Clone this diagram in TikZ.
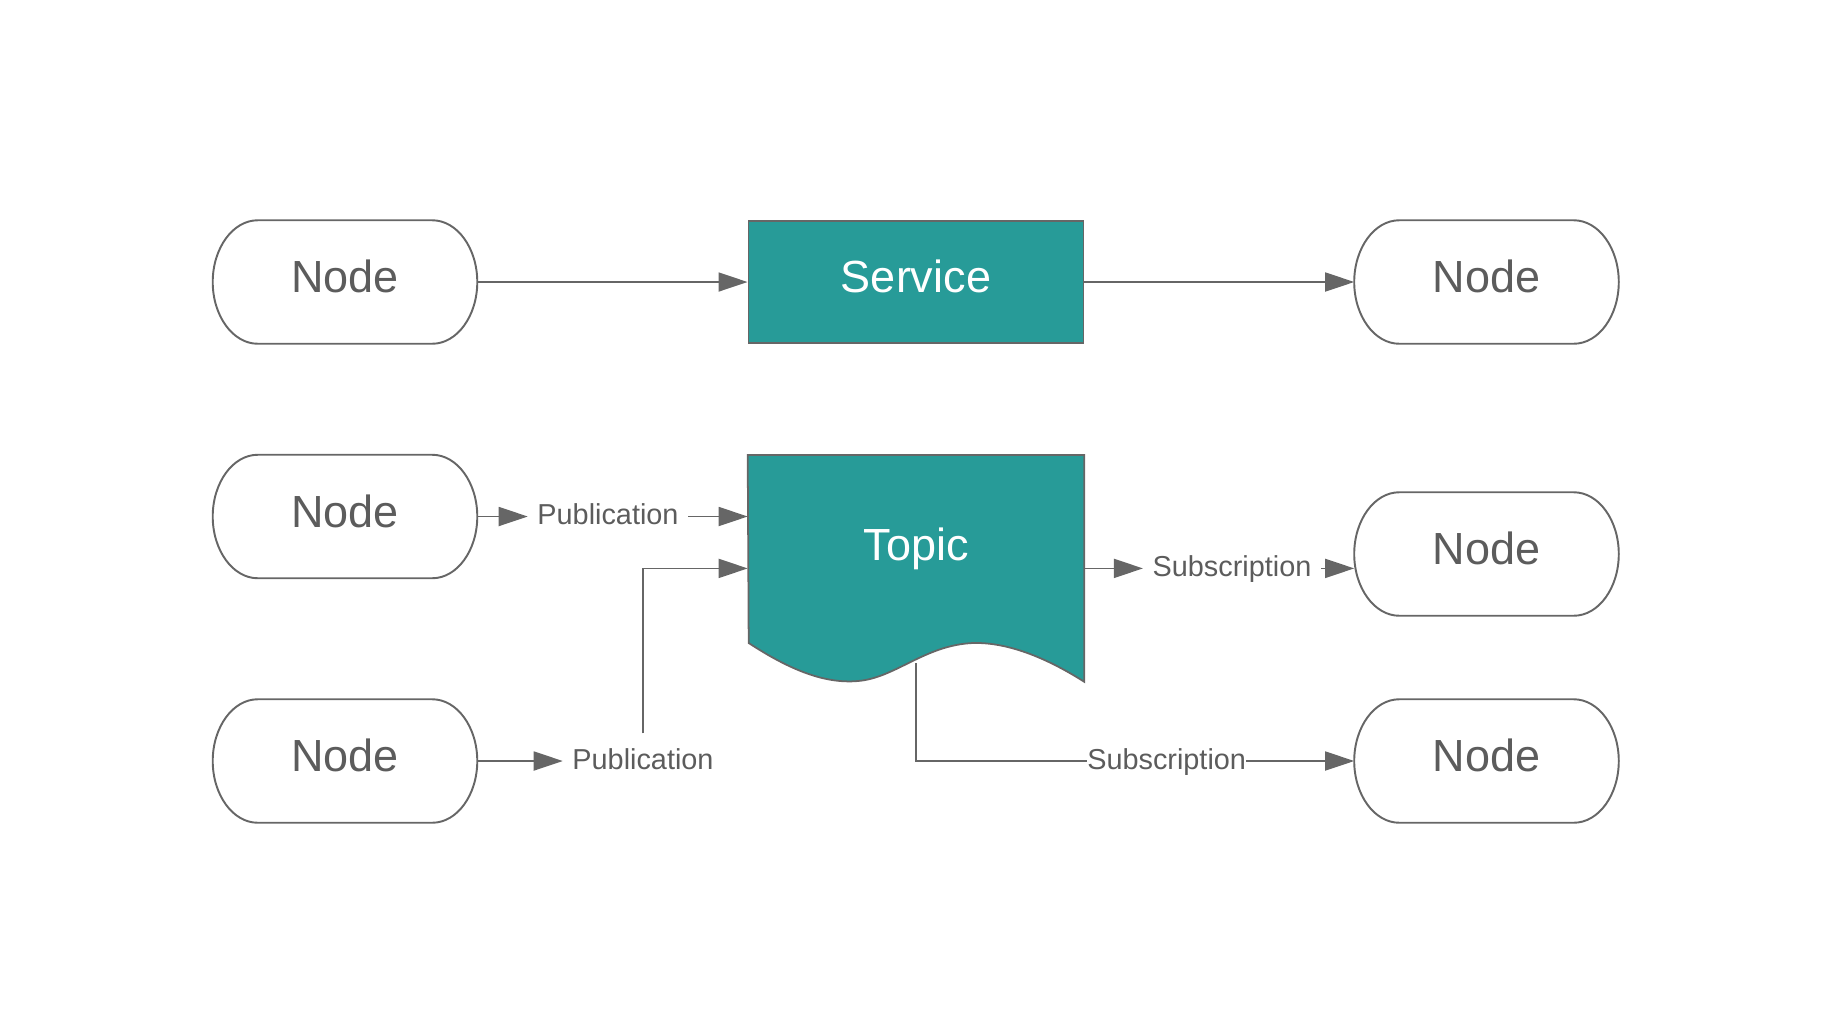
\documentclass[tikz,border=0pt]{standalone}
\usepackage{fontspec}
\setmainfont{Liberation Sans}
\usetikzlibrary{arrows.meta}
\definecolor{tealbox}{HTML}{279B98}
\definecolor{linegray}{HTML}{666666}
\definecolor{txtgray}{HTML}{5C5C5C}
\tikzset{
  arr/.style={draw=linegray, line width=0.5pt, -{Triangle[length=0.29cm,width=0.19cm]}},
  pill/.style={minimum width=2.63cm, minimum height=1.22cm, text=txtgray, font=\fontsize{12.8}{15}\selectfont, text height=0.33cm, text depth=0.12cm,
    append after command={\pgfextra{\draw[linegray, line width=0.55pt] ([xshift=0.45cm]\tikzlastnode.north west) -- ([xshift=-0.45cm]\tikzlastnode.north east)
      .. controls ([xshift=-0.2cm]\tikzlastnode.north east) and ([yshift=0.337cm]\tikzlastnode.east) .. (\tikzlastnode.east)
      .. controls ([yshift=-0.337cm]\tikzlastnode.east) and ([xshift=-0.2cm]\tikzlastnode.south east) .. ([xshift=-0.45cm]\tikzlastnode.south east)
      -- ([xshift=0.45cm]\tikzlastnode.south west)
      .. controls ([xshift=0.2cm]\tikzlastnode.south west) and ([yshift=-0.337cm]\tikzlastnode.west) .. (\tikzlastnode.west)
      .. controls ([yshift=0.337cm]\tikzlastnode.west) and ([xshift=0.2cm]\tikzlastnode.north west) .. cycle;}}},
  tealbox/.style={fill=tealbox, draw=linegray, line width=0.5pt, minimum width=3.35cm, minimum height=1.22cm, text=white, font=\fontsize{12.8}{15}\selectfont, text height=0.33cm, text depth=0.12cm},
  lbl/.style={text=txtgray, font=\fontsize{8.2}{10}\selectfont, text height=0.22cm, text depth=0.06cm, inner xsep=0.09cm, inner ysep=0.13cm},
  onlbl/.style={text=txtgray, font=\fontsize{8.2}{10}\selectfont, text height=0.22cm, text depth=0.06cm, fill=white, inner sep=0pt}
}
\begin{document}
\begin{tikzpicture}[x=0.01cm, y=-0.01cm]
\useasboundingbox (0,0) rectangle (1823,1011);
\node[pill] (nodeL1) at (345,282) {Node}; \node[tealbox] (service) at (916,282) {Service}; \node[pill] (nodeR1) at (1486.5,282) {Node};
\node[pill] (nodeL2) at (345,516.5) {Node}; \node[pill] (nodeR2) at (1486.5,554) {Node};
\node[pill] (nodeL3) at (345,761) {Node}; \node[pill] (nodeR3) at (1486.5,761) {Node};
\node[minimum width=3.35cm, minimum height=2.253cm, inner sep=0pt] (topic) at (916,568.4) {};
\filldraw[fill=tealbox, draw=linegray, line width=0.5pt] (topic.south east) -- (topic.north east) -- (topic.north west) -- (748.7,643) .. controls (790,670) and (825,684) .. (858,681) .. controls (895,678) and (925,645) .. (973,643) .. controls (1010,642) and (1050,660) .. (topic.south east) -- cycle;
\node[text=white, font=\fontsize{12.8}{15}\selectfont, text height=0.33cm, text depth=0.12cm] (topiclabel) at (916,550) {Topic};
\coordinate (topicwave) at (916,663);
\node[lbl] (pubA) at (608,516.5) {Publication}; \node[lbl] (pubB) at (643,761) {Publication}; \node[lbl] (subA) at (1232,568.4) {Subscription};
\draw[arr] (nodeL1) -- (service); \draw[arr] (service) -- (nodeR1);
\draw[arr] (nodeL2.east) -- (pubA.west); \draw[arr] (pubA.east) -- (pubA.east -| topic.west);
\draw[arr] (nodeL3.east) -- (pubB.west); \draw[arr] (pubB.north) |- (topic.west);
\draw[arr] (topic.east) -- (subA.west); \draw[arr] (subA.east) -- (subA.east -| nodeR2.west);
\draw[arr] (topicwave) |- node[onlbl, pos=0.786] (subB) {Subscription} (nodeR3.west);
\end{tikzpicture}
\end{document}
